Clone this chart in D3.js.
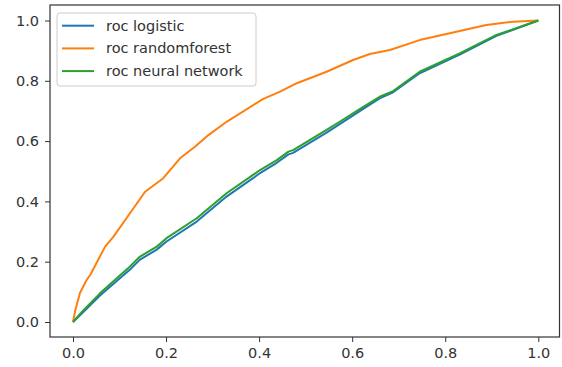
<!DOCTYPE html>
<html>
<head>
<meta charset="utf-8">
<script src="https://cdn.jsdelivr.net/npm/d3@7"></script>
<style>
  body { margin: 0; background: #fff; }
  svg text { font-family: "DejaVu Sans", sans-serif; }
</style>
</head>
<body>
<div id="chart"></div>
<script>
// ROC curves: [false positive rate, true positive rate]
const seriesNames = ["roc logistic", "roc randomforest", "roc neural network"];
const seriesColors = ["#1f77b4", "#ff7f0e", "#2ca02c"];

const rocLogistic = [
  [0, 0], [0.02, 0.03], [0.058, 0.088], [0.094, 0.136], [0.122, 0.173],
  [0.144, 0.207], [0.18, 0.24], [0.201, 0.267], [0.266, 0.333], [0.33, 0.416],
  [0.387, 0.477], [0.402, 0.494], [0.438, 0.528], [0.463, 0.556], [0.473, 0.561],
  [0.545, 0.628], [0.574, 0.657], [0.617, 0.7], [0.659, 0.742], [0.688, 0.762],
  [0.745, 0.825], [0.831, 0.887], [0.91, 0.949], [1, 1]
];
const rocForest = [
  [0, 0], [0.005, 0.04], [0.015, 0.096], [0.029, 0.139], [0.037, 0.156],
  [0.069, 0.25], [0.087, 0.283], [0.122, 0.36], [0.155, 0.432], [0.194, 0.477],
  [0.23, 0.543], [0.262, 0.581], [0.291, 0.62], [0.33, 0.664], [0.409, 0.74],
  [0.445, 0.764], [0.481, 0.792], [0.545, 0.83], [0.602, 0.869], [0.638, 0.889],
  [0.681, 0.902], [0.745, 0.935], [0.824, 0.963], [0.888, 0.985], [0.946, 0.996],
  [1, 1]
];
const rocNeural = [
  [0, 0], [0.02, 0.035], [0.058, 0.095], [0.094, 0.145], [0.122, 0.183],
  [0.144, 0.217], [0.18, 0.25], [0.201, 0.278], [0.266, 0.344], [0.33, 0.427],
  [0.387, 0.488], [0.402, 0.504], [0.438, 0.537], [0.463, 0.565], [0.473, 0.57],
  [0.545, 0.637], [0.574, 0.665], [0.617, 0.707], [0.659, 0.747], [0.688, 0.766],
  [0.745, 0.83], [0.831, 0.891], [0.91, 0.952], [1, 1]
];
const tickValues = [0, 0.2, 0.4, 0.6, 0.8, 1.0];

const width = 562, height = 367;
const box = {left: 50, right: 559.5, top: 5, bottom: 337};

const svg = d3.select("#chart").append("svg")
    .attr("width", width)
    .attr("height", height);

const x = d3.scaleLinear().domain([0, 1]).range([73, 538.3]);
const y = d3.scaleLinear().domain([0, 1]).range([322, 20.5]);

const line = d3.line()
    .x(d => x(d[0]))
    .y(d => y(d[1]));

// curves
svg.append("g")
    .attr("fill", "none")
    .attr("stroke-width", 2)
    .attr("stroke-linejoin", "round")
  .selectAll("path")
  .data([rocLogistic, rocForest, rocNeural])
  .enter().append("path")
    .attr("stroke", (d, i) => seriesColors[i])
    .attr("d", line);

// axes
const fmt = d3.format(".1f");
const xAxis = svg.append("g")
    .attr("transform", "translate(0," + box.bottom + ")")
    .call(d3.axisBottom(x).tickValues(tickValues).tickFormat(fmt).tickSize(5).tickPadding(6));
const yAxis = svg.append("g")
    .attr("transform", "translate(" + box.left + ",0)")
    .call(d3.axisLeft(y).tickValues(tickValues).tickFormat(fmt).tickSize(5).tickPadding(6));

[xAxis, yAxis].forEach(a => {
  a.select(".domain").remove();
  a.selectAll(".tick line").attr("stroke", "#333");
  a.selectAll(".tick text")
      .attr("fill", "#333")
      .style("font-size", "14.5px")
      .style("font-family", "'DejaVu Sans', sans-serif");
});

// frame
svg.append("rect")
    .attr("x", box.left)
    .attr("y", box.top)
    .attr("width", box.right - box.left)
    .attr("height", box.bottom - box.top)
    .attr("fill", "none")
    .attr("stroke", "#333")
    .attr("stroke-width", 1.2);

// legend
const legend = svg.append("g");
legend.append("rect")
    .attr("x", 57).attr("y", 13)
    .attr("width", 199).attr("height", 73)
    .attr("rx", 3)
    .attr("fill", "#fff").attr("fill-opacity", 0.8)
    .attr("stroke", "#ccc");

const rows = legend.selectAll("g.row")
  .data(seriesNames)
  .enter().append("g")
    .attr("class", "row")
    .attr("transform", (d, i) => "translate(0," + (25.7 + i * 22.7) + ")");
rows.append("line")
    .attr("x1", 62).attr("x2", 94)
    .attr("stroke", (d, i) => seriesColors[i])
    .attr("stroke-width", 2);
rows.append("text")
    .attr("x", 106)
    .attr("dy", "0.35em")
    .attr("fill", "#333")
    .style("font-size", "14.5px")
    .text(d => d);
</script>
</body>
</html>
